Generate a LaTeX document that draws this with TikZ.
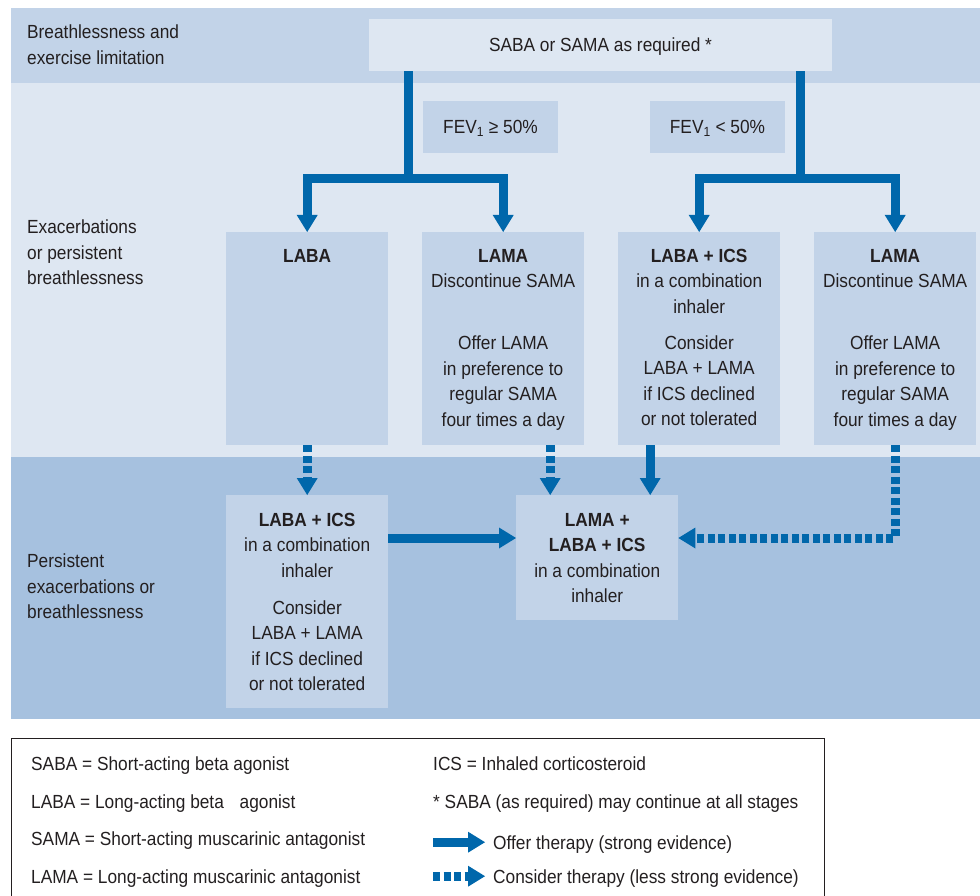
\documentclass[tikz,border=0pt]{standalone}
\usepackage{fontspec}
\setmainfont{Liberation Sans}[FakeStretch=0.91]
\usetikzlibrary{arrows.meta}

\definecolor{bandtop}{HTML}{C2D3E8}
\definecolor{bandmid}{HTML}{DEE7F2}
\definecolor{bandlow}{HTML}{A6C1DF}
\definecolor{boxfill}{HTML}{C2D3E8}
\definecolor{arrowblue}{HTML}{0067AB}
\definecolor{textgray}{HTML}{231F20}

\tikzset{
  box/.style={fill=boxfill, inner sep=0pt, anchor=north west, minimum width=162pt},
  txt/.style={text=textgray, inner sep=0pt, align=center, anchor=north},
  sidetxt/.style={text=textgray, inner sep=0pt, align=left, anchor=north west},
  legtxt/.style={text=textgray, inner sep=0pt, anchor=base west},
  offer/.style={draw=arrowblue, line width=9pt, -{Triangle[width=21pt,length=17pt,line width=0pt]}},
  consider/.style={offer, dash pattern=on 7pt off 3.5pt},
}

\begin{document}
\begin{tikzpicture}[x=1pt, y=-1pt, font=\fontsize{19}{25.5}\selectfont]
  \useasboundingbox (0,0) rectangle (980,896);
  % bands
  \fill[bandtop] (11,8) rectangle (980,83);
  \fill[bandmid] (11,83) rectangle (980,457);
  \fill[bandlow] (11,457) rectangle (980,719);

  % stage labels on the left
  \node[sidetxt] (stage1) at (27,25) {Breathlessness and\\exercise limitation};
  \node[sidetxt] (stage2) at (27,220) {Exacerbations\\or persistent\\breathlessness};
  \node[sidetxt] (stage3) at (27,554) {Persistent\\exacerbations or\\breathlessness};

  % top box and FEV1 split
  \node[fill=bandmid, text=textgray, minimum width=463pt, minimum height=52pt, inner sep=0pt,
        text height=13.6pt, text depth=0pt] (top) at (600.5,45) {SABA or SAMA as required *};
  \node[fill=boxfill, text=textgray, minimum width=135pt, minimum height=52pt, inner sep=0pt,
        text height=13.6pt, text depth=0pt] (fev1) at (490.5,127) {FEV\textsubscript{1} ≥ 50\%};
  \node[fill=boxfill, text=textgray, minimum width=135pt, minimum height=52pt, inner sep=0pt,
        text height=13.6pt, text depth=0pt] (fev2) at (717.5,127) {FEV\textsubscript{1} < 50\%};

  % second row boxes (format: name/left edge)
  \foreach \name/\x in {laba/226,lama1/422,lamaics/618,lama2/814} {
    \node[box, minimum height=213pt] (\name) at (\x,232) {};
  }
  \node[txt] (t-laba) at (laba.north |- 0,249) {\textbf{LABA}};
  \node[txt] (t-lama1) at (lama1.north |- 0,249) {\textbf{LAMA}\\Discontinue SAMA\\[36.5pt]Offer LAMA\\in preference to\\regular SAMA\\four times a day};
  \node[txt] (t-lamaics) at (lamaics.north |- 0,249) {\textbf{LABA + ICS}\\in a combination\\inhaler\\[10.5pt]Consider\\LABA + LAMA\\if ICS declined\\or not tolerated};
  \node[txt] (t-lama2) at (lama2.north |- 0,249) {\textbf{LAMA}\\Discontinue SAMA\\[36.5pt]Offer LAMA\\in preference to\\regular SAMA\\four times a day};

  % third row boxes
  \node[box, minimum height=213pt] (labaics) at (226,495) {};
  \node[box, minimum height=125pt] (combo) at (516,495) {};
  \node[txt] (t-labaics) at (labaics.north |- 0,513) {\textbf{LABA + ICS}\\in a combination\\inhaler\\[11.5pt]Consider\\LABA + LAMA\\if ICS declined\\or not tolerated};
  \node[txt] (t-combo) at (combo.north |- 0,513) {\textbf{LAMA +}\\\textbf{LABA + ICS}\\in a combination\\inhaler};

  % arrows
  \draw[offer] ([xshift=40pt]top.south west) -- ++(0,107) -| (laba.north);
  \draw[offer] ([xshift=40pt]top.south west) ++(0,107) -| (lama1.north);
  \draw[offer] ([xshift=-32pt]top.south east) -- ++(0,107) -| (lamaics.north);
  \draw[offer] ([xshift=-32pt]top.south east) ++(0,107) -| (lama2.north);

  \coordinate (lvl) at (0,538);
  \draw[consider] (laba.south) -- (labaics.north);
  \draw[consider] ([xshift=47pt]lama1.south) -- ([xshift=47pt]lama1.south |- combo.north);
  \draw[offer] ([xshift=-49pt]lamaics.south) -- ([xshift=-49pt]lamaics.south |- combo.north);
  \draw[consider] (lama2.south) |- (combo.east |- lvl);
  \draw[offer] (labaics.east |- lvl) -- (combo.west |- lvl);

  % legend
  \draw[textgray, line width=1pt] (11.5,900) -- (11.5,738.5) -- (824.5,738.5) -- (824.5,900);
  \foreach \label/\y [count=\i] in {SABA = Short-acting beta agonist/770,
      LABA = Long-acting beta\hspace{11pt} agonist/808,
      SAMA = Short-acting muscarinic antagonist/845,
      LAMA = Long-acting muscarinic antagonist/883} {
    \node[legtxt] (abbr\i) at (31,\y) {\label};
  }
  \node[legtxt] (ics) at (433,770) {ICS = Inhaled corticosteroid};
  \node[legtxt] (note) at (433,808) {* SABA (as required) may continue at all stages};
  \node[legtxt] (key1) at (493,849) {Offer therapy (strong evidence)};
  \node[legtxt] (key2) at (493,883) {Consider therapy (less strong evidence)};
  \draw[offer] ([xshift=-60pt,yshift=6.8pt]key1.base west) -- ([xshift=-8pt,yshift=6.8pt]key1.base west);
  \draw[consider] ([xshift=-60pt,yshift=6.8pt]key2.base west) -- ([xshift=-8pt,yshift=6.8pt]key2.base west);
\end{tikzpicture}
\end{document}
